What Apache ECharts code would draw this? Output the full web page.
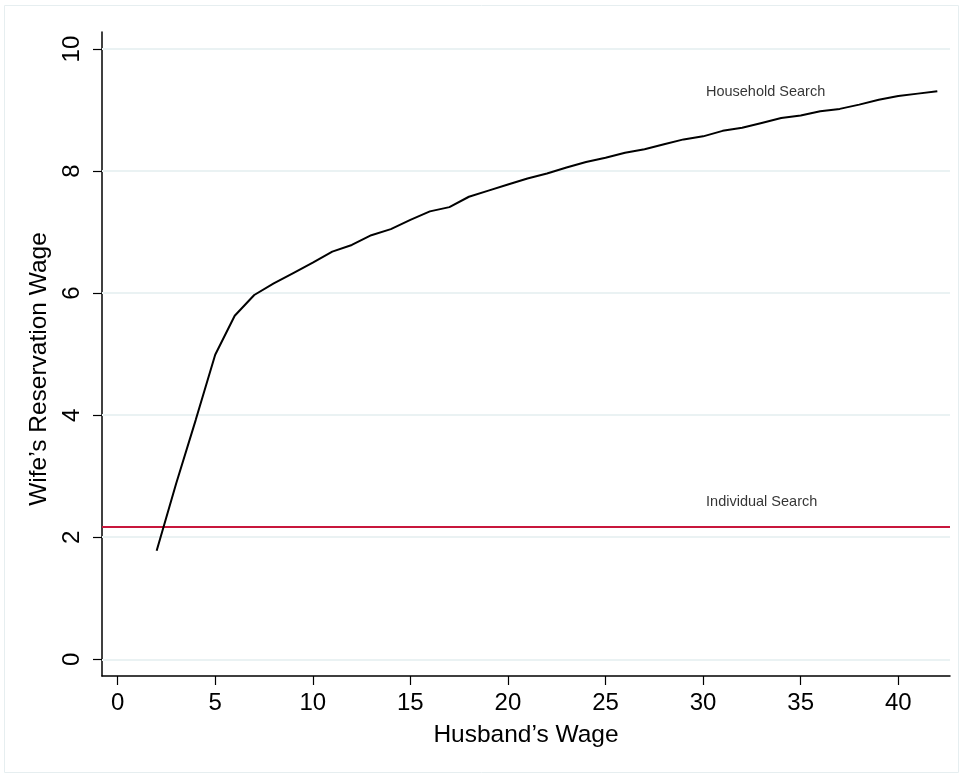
<!DOCTYPE html>
<html>
<head>
<meta charset="utf-8">
<script src="https://cdn.jsdelivr.net/npm/echarts@6/dist/echarts.min.js"></script>
<style>html,body{margin:0;padding:0;background:#fff}#c{width:964px;height:778px}</style>
</head>
<body>
<div id="c"></div>
<script>
const husbandWage = [2,3,4,5,6,7,8,9,10,11,12,13,14,15,16,17,18,19,20,21,22,23,24,25,26,27,28,29,30,31,32,33,34,35,36,37,38,39,40,41,42];
const householdSearch = [1.78,2.88,3.92,4.99,5.63,5.97,6.16,6.33,6.50,6.68,6.79,6.95,7.05,7.20,7.34,7.41,7.58,7.68,7.78,7.88,7.96,8.06,8.15,8.22,8.30,8.36,8.44,8.52,8.57,8.66,8.71,8.79,8.87,8.91,8.98,9.02,9.09,9.17,9.23,9.27,9.31];
const individualSearch = 2.18;
const xTicks = [0,5,10,15,20,25,30,35,40];
const yTicks = [0,2,4,6,8,10];
const labelNames = ['Household Search','Individual Search'];
const labelX = [33.2, 33.0];
const labelY = [9.30, 2.58];

const font = "'Liberation Sans', Arial, sans-serif";
const chart = echarts.init(document.getElementById('c'), null, {renderer:'canvas'});
chart.setOption({
  animation:false,
  backgroundColor:'#ffffff',
  graphic:[{type:'rect', shape:{x:4.5,y:5.5,width:954,height:767}, style:{fill:'none', stroke:'#e6eef0', lineWidth:1}, silent:true}],
  grid:{left:102, right:14, top:32, bottom:102, containLabel:false},
  xAxis:{
    type:'value', min:-0.8, max:42.65,
    name:'Husband\u2019s Wage', nameLocation:'middle', nameGap:47,
    nameTextStyle:{fontFamily:font, fontSize:24.5, color:'#000'},
    axisLine:{show:true, onZero:false, lineStyle:{color:'#000', width:1.5}},
    axisTick:{show:true, length:9, lineStyle:{color:'#000', width:1.2}, customValues:xTicks},
    axisLabel:{fontFamily:font, fontSize:24, color:'#000', margin:15, customValues:xTicks},
    splitLine:{show:false}
  },
  yAxis:{
    type:'value', min:-0.274, max:10.28,
    name:'Wife\u2019s Reservation Wage', nameLocation:'middle', nameGap:50,
    nameTextStyle:{fontFamily:font, fontSize:24.5, color:'#000', padding:[0,30,0,0]},
    axisLine:{show:true, onZero:false, lineStyle:{color:'#000', width:1.5}},
    axisTick:{show:true, length:9, lineStyle:{color:'#000', width:1.2}, customValues:yTicks},
    axisLabel:{fontFamily:font, fontSize:24, color:'#000', margin:18, rotate:90, customValues:yTicks},
    splitLine:{show:false}
  },
  series:[
    {
      type:'line', silent:true, symbol:'none', z:1,
      data:[],
      markLine:{silent:true, symbol:'none', z:1, label:{show:false},
        lineStyle:{color:'#eaf2f3', width:2, type:'solid'},
        data: yTicks.map(v=>({yAxis:v}))}
    },
    {
      type:'line', name:'Household Search', symbol:'none', silent:true, z:10,
      data: husbandWage.map((x,i)=>[x, householdSearch[i]]),
      lineStyle:{color:'#000', width:2}
    },
    {
      type:'line', name:'Individual Search', symbol:'none', silent:true, z:5,
      data:[],
      markLine:{silent:true, symbol:'none', z:5, label:{show:false},
        lineStyle:{color:'#c8163c', width:2, type:'solid'},
        data:[{yAxis:individualSearch}]}
    },
    {
      type:'scatter', symbolSize:0, silent:true, z:11,
      data: labelNames.map((n,i)=>({value:[labelX[i], labelY[i]], name:n})),
      label:{show:true, position:'inside', formatter:p=>p.name,
        fontFamily:font, fontSize:14.5, color:'#000'}
    }
  ]
});
</script>
</body>
</html>
